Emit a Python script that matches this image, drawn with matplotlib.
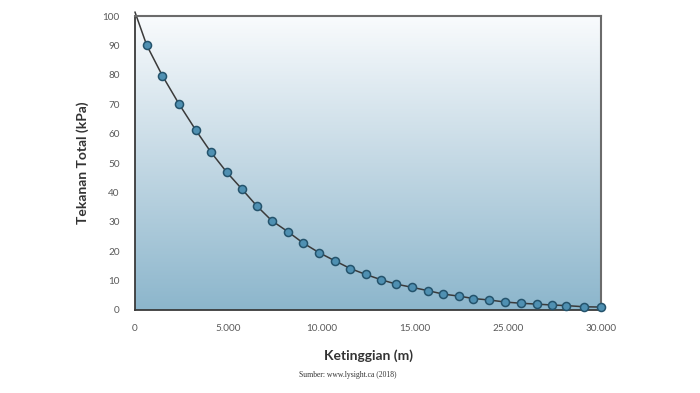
import numpy as np
import matplotlib
matplotlib.use('Agg')
import matplotlib.pyplot as plt
from matplotlib.colors import LinearSegmentedColormap

# data
ketinggian = [0, 750, 1760, 2830, 3910, 4870, 5900, 6870, 7840, 8800, 9850,
              10820, 11850, 12880, 13860, 14850, 15840, 16820, 17850, 18840, 19850,
              20880, 21780, 22810, 23840, 24830, 25860, 26850, 27750, 28910, 30000]
tekanan = [101.3, 90.1, 79.7, 70.1, 61.2, 53.8, 46.9, 41.2, 35.4, 30.4, 26.6,
           22.8, 19.5, 16.7, 14.1, 12.1, 10.3, 8.8, 7.7, 6.6, 5.4,
           4.7, 3.9, 3.4, 2.7, 2.3, 2.0, 1.7, 1.5, 1.1, 1.0]
xtick_pos = [0, 6000, 12000, 18000, 24000, 30000]
xtick_labels = ['0', '5.000', '10.000', '15.000', '25.000', '30.000']
ytick_pos = [0, 10, 20, 30, 40, 50, 60, 70, 80, 90, 100]

plt.rcParams['font.family'] = ['Lato', 'DejaVu Sans']

fig = plt.figure(figsize=(7, 3.93), dpi=100)
ax = fig.add_axes([0.1929, 0.2112, 0.6657, 0.748])

# gradient background
cmap = LinearSegmentedColormap.from_list('bg', ['#8cb6cc', '#c3d8e4', '#f9fbfd'])
grad = np.linspace(0, 1, 256).reshape(-1, 1)
ax.imshow(grad, extent=[0, 30000, 0, 100], origin='lower', aspect='auto',
          cmap=cmap, zorder=0)

ax.plot(ketinggian, tekanan, color='#3a3a3a', linewidth=1.1, zorder=2, clip_on=False)
ax.plot(ketinggian[1:], tekanan[1:], linestyle='none', marker='o', markersize=5.8,
        markerfacecolor='#4f90b2', markeredgecolor='#24536c', markeredgewidth=1.1,
        zorder=3, clip_on=False)

ax.set_xlim(0, 30000)
ax.set_ylim(0, 100)
ax.set_xticks(xtick_pos)
ax.set_xticklabels(xtick_labels)
ax.set_yticks(ytick_pos)
ax.tick_params(length=0, labelsize=7.2, labelcolor='#5a5a5a')
ax.tick_params(axis='x', pad=10)
ax.tick_params(axis='y', pad=11)

for side in ['left', 'bottom']:
    ax.spines[side].set_color('#3a3a3a')
    ax.spines[side].set_linewidth(1.3)
for side in ['top', 'right']:
    ax.spines[side].set_color('#6b6b6b')
    ax.spines[side].set_linewidth(1.5)

ax.set_ylabel('Tekanan Total (kPa)', fontsize=10, fontweight='bold', color='#333333', labelpad=10)
ax.set_xlabel('Ketinggian (m)', fontsize=10, fontweight='bold', color='#333333', labelpad=12)

fig.text(0.497, 0.045, 'Sumber: www.lysight.ca (2018)', ha='center', va='center',
         fontsize=5.5, family='Liberation Serif', color='#333333')

fig.savefig('out.png', dpi=100)
